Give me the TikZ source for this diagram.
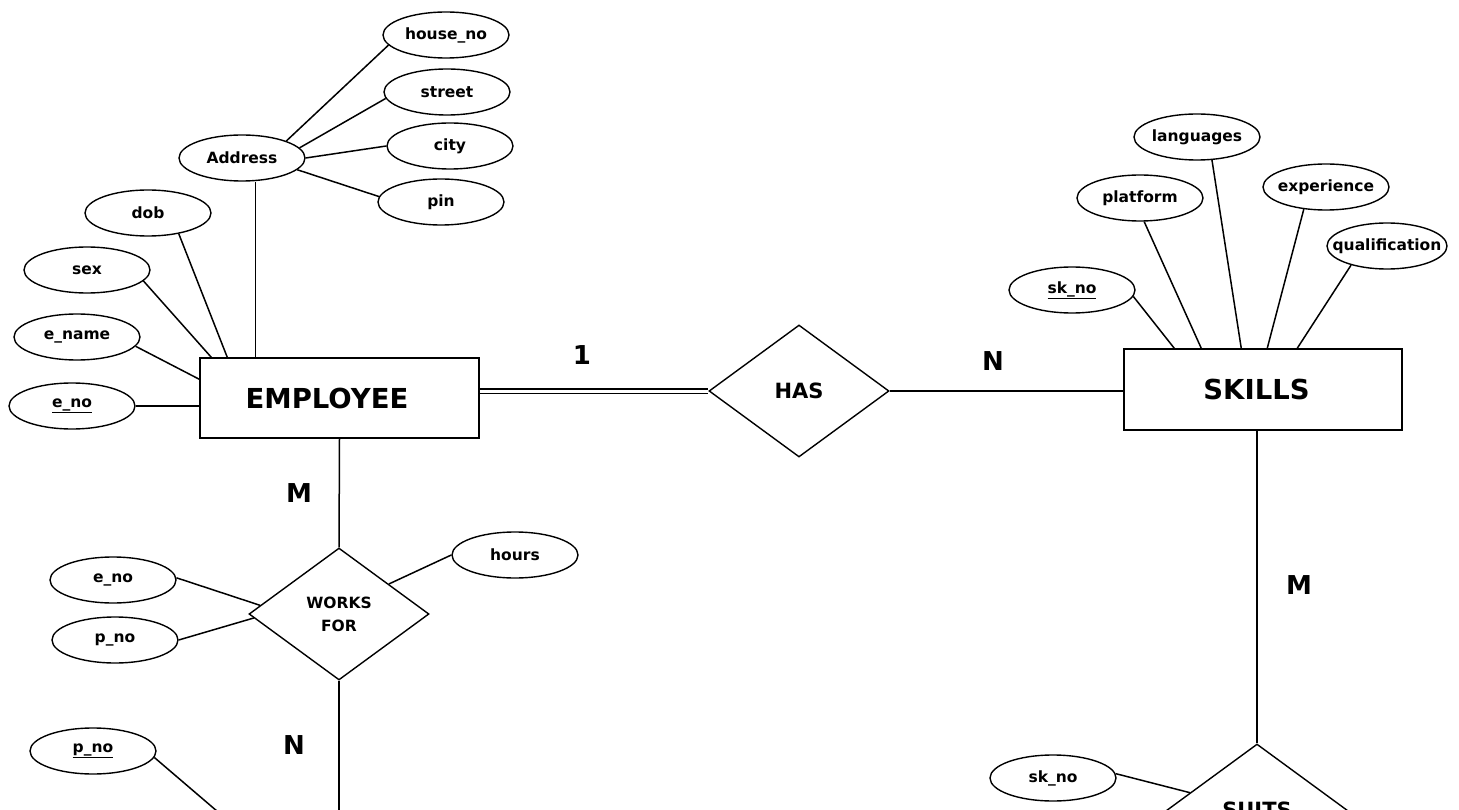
\documentclass[tikz,border=0pt]{standalone}
\usepackage{fontspec}
\setmainfont{DejaVu Sans}
\usetikzlibrary{shapes.geometric,calc}
\newcommand\attrtext[1]{\makebox[0pt]{#1}}
\begin{document}
\begin{tikzpicture}[x=1pt,y=-1pt,
  conn/.style={line width=1.5pt},
  attr/.style={draw, ellipse, line width=1.4pt, minimum width=126pt, minimum height=46pt, inner sep=0pt, font=\fontsize{15.5}{18}\selectfont\bfseries},
  ent/.style={draw, rectangle, line width=1.5pt, minimum width=279pt, minimum height=80pt, inner sep=0pt, font=\fontsize{27.5}{32}\selectfont\bfseries},
  rel/.style={draw, diamond, line width=1.4pt, minimum width=180pt, minimum height=132pt, aspect=1.36, inner sep=0pt, font=\fontsize{21}{25}\selectfont\bfseries},
  card/.style={inner sep=0pt, font=\fontsize{26}{30}\selectfont\bfseries},
  dbl/.style={line width=1.2pt, double distance=3pt}
]
\useasboundingbox (0,0) rectangle (1459,810);
\fill[white] (0,0) rectangle (1459,810);
\clip (0,0) rectangle (1459,810);

% entities
\node[ent] (emp) at (339.5,398) {EMPLOYEE\rule{25pt}{0pt}};
\node[ent, minimum width=278pt, minimum height=81pt] (skills) at (1263,389.5) {SKILLS\rule{13pt}{0pt}};

% relationships
\node[rel] (has) at (799,391) {HAS};
\node[rel, align=center, font=\fontsize{15.5}{23}\selectfont\bfseries] (wf) at (339,614) {WORKS\\FOR};
\node[rel] (suits) at (1257,810) {SUITS};

% employee attributes
\node[attr] (house) at (446,35) {\attrtext{house\_no}};
\node[attr] (street) at (447,92) {\attrtext{street}};
\node[attr] (city) at (450,146) {\attrtext{city}};
\node[attr] (pin) at (441,202) {\attrtext{pin}};
\node[attr] (addr) at (242,158) {\attrtext{Address}};
\node[attr] (dob) at (148,213) {\attrtext{dob}};
\node[attr] (sex) at (87,270) {\attrtext{sex}};
\node[attr] (ename) at (77,337) {\attrtext{e\_name}};
\node[attr] (eno) at (72,406) {\attrtext{\underline{e\_no}}};

% skills attributes
\node[attr] (lang) at (1197,137) {\attrtext{languages}};
\node[attr] (plat) at (1140,198) {\attrtext{platform}};
\node[attr] (exper) at (1326,187) {\attrtext{experience}};
\node[attr, minimum width=120pt] (qual) at (1387,246) {\attrtext{qualification}};
\node[attr] (skno) at (1072,290) {\attrtext{\underline{sk\_no}}};

% works for attributes
\node[attr] (eno2) at (113,580) {\attrtext{e\_no}};
\node[attr] (pno) at (115,640) {\attrtext{p\_no}};
\node[attr] (hours) at (515,555) {\attrtext{hours}};
\node[attr] (pno2) at (93,751) {\attrtext{\underline{p\_no}}};
\node[attr] (skno2) at (1053,778) {\attrtext{sk\_no}};

% cardinalities
\node[card] (c1) at (582,355) {1};
\node[card] (c2) at (993,361) {N};
\node[card] (c3) at (299,493) {M};
\node[card] (c4) at (294,745) {N};
\node[card] (c5) at (1299,585) {M};

% helper coordinates
\coordinate (empAddr) at ($(emp.north west)+(56,0)$);
\coordinate (empDob) at ($(emp.north west)+(28,0)$);
\coordinate (empSex) at ($(emp.north west)+(12,0)$);
\coordinate (empName) at ($(emp.north west)+(0,22)$);
\coordinate (skA) at ($(skills.north west)+(51,0)$);
\coordinate (skB) at ($(skills.north west)+(78,0)$);
\coordinate (skC) at ($(skills.north west)+(118,0)$);
\coordinate (skD) at ($(skills.north west)+(144,0)$);
\coordinate (skE) at ($(skills.north west)+(174,0)$);
\coordinate (wfA) at ($(wf.west)!0.13!(wf.north)$);
\coordinate (wfB) at ($(wf.west)!0.06!(wf.south)$);
\coordinate (wfC) at ($(wf.north)!0.55!(wf.east)$);
\coordinate (suA) at ($(suits.west)!0.26!(suits.north)$);
\coordinate (wfEnd) at ($(wf.south)+(0,200)$);
\coordinate (pnoEnd) at ($(pno2.-6)+(90,77)$);

% address composite
\draw[conn] (addr.21) -- (house.190);
\draw[conn] (addr.10) -- (street.186);
\draw[conn] (addr.east) -- (city.west);
\draw[conn] (addr.-12) -- (pin.175);
\draw[conn] (empAddr |- addr.south) -- (empAddr);

% employee attributes
\draw[conn] (dob.-34) -- (empDob);
\draw[conn] (sex.-11) -- (empSex);
\draw[conn] (ename.-9) -- (empName);
\draw[conn] (eno.east) -- (eno.east -| emp.west);

% skills attributes
\draw[conn] (skno.-6) -- (skA);
\draw[conn] (plat.-80) -- (skB);
\draw[conn] (lang.-57) -- (skC);
\draw[conn] (exper.-135) -- (skD);
\draw[conn] (qual.208) -- (skE);

% relationships
\draw[dbl] (has.west -| emp.east) -- (has.west);
\draw[conn] (has.east) -- (has.east -| skills.west);
\draw[conn] (emp.south) -- (wf.north);
\draw[conn] (wf.south) -- (wfEnd);
\draw[conn] (suits.north |- skills.south) -- (suits.north);

% works for attributes
\draw[conn] (eno2.2) -- (wfA);
\draw[conn] (pno.east) -- (wfB);
\draw[conn] (wfC) -- (hours.west);
\draw[conn] (pno2.-6) -- (pnoEnd);
\draw[conn] (skno2.4) -- (suA);
\end{tikzpicture}
\end{document}
